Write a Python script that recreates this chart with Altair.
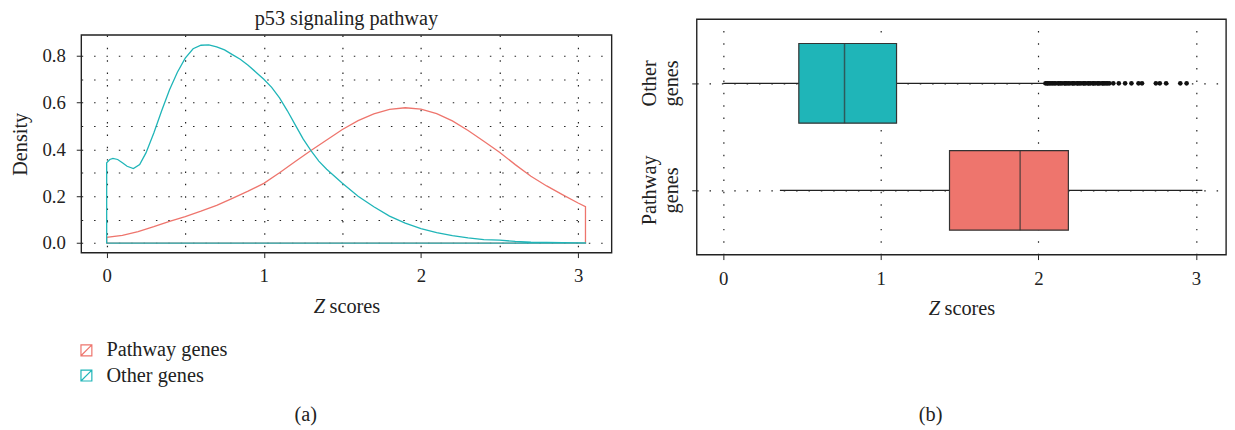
import altair as alt
import pandas as pd

FONT = "Liberation Serif"
INK = "#222222"
RED = "#EE756D"
TEAL = "#1FB5B8"

# ---------------- data ----------------
groups = ["Pathway genes", "Other genes"]
colors = [RED, TEAL]
title_text = ["p53 signaling pathway"]
xlab_italic = ["Z"]
xlab_rest = ["scores"]
panel_a = ["(a)"]
panel_b = ["(b)"]

# density of Z scores, pathway genes
path_x = [0.0, 0.1, 0.2, 0.3, 0.4, 0.5, 0.6, 0.7, 0.8, 0.9, 1.0, 1.1, 1.2, 1.3, 1.4,
          1.5, 1.6, 1.7, 1.8, 1.9, 2.0, 2.1, 2.2, 2.3, 2.4, 2.5, 2.6, 2.7, 2.8, 2.9,
          3.0, 3.047]
path_y = [0.024, 0.033, 0.049, 0.070, 0.093, 0.113, 0.136, 0.161, 0.191, 0.222, 0.255,
          0.300, 0.348, 0.395, 0.440, 0.485, 0.523, 0.552, 0.571, 0.578, 0.572, 0.553,
          0.522, 0.481, 0.435, 0.388, 0.335, 0.285, 0.244, 0.207, 0.171, 0.155]

# density of Z scores, other genes
other_x = [0.0, 0.02, 0.04, 0.07, 0.10, 0.13, 0.17, 0.21, 0.25, 0.30, 0.35, 0.40, 0.45,
           0.50, 0.55, 0.60, 0.65, 0.70, 0.75, 0.80, 0.85, 0.90, 0.95, 1.00, 1.05, 1.10,
           1.15, 1.20, 1.25, 1.30, 1.35, 1.40, 1.50, 1.60, 1.70, 1.80, 1.90, 2.00, 2.10,
           2.20, 2.30, 2.40, 2.50, 2.60, 2.70, 2.80, 2.90, 3.047]
other_y = [0.343, 0.357, 0.362, 0.357, 0.343, 0.328, 0.318, 0.335, 0.385, 0.470, 0.565,
           0.655, 0.730, 0.790, 0.830, 0.845, 0.847, 0.838, 0.825, 0.805, 0.785, 0.760,
           0.730, 0.700, 0.665, 0.620, 0.565, 0.505, 0.445, 0.395, 0.350, 0.315, 0.255,
           0.200, 0.155, 0.115, 0.085, 0.062, 0.045, 0.032, 0.022, 0.015, 0.012, 0.007,
           0.004, 0.003, 0.002, 0.001]

# boxplot summaries
box_groups = ["Other genes", "Pathway genes"]
box_lo = [0.0, 0.36]
box_q1 = [0.48, 1.436]
box_med = [0.77, 1.884]
box_q3 = [1.10, 2.19]
box_hi = [2.04, 3.04]
box_fill_groups = ["Pathway genes", "Other genes"]

outlier_group = "Other genes"
outliers = [2.045, 2.055, 2.06, 2.07, 2.08, 2.09, 2.10, 2.11, 2.125, 2.13, 2.14, 2.15,
            2.165, 2.17, 2.18, 2.19, 2.20, 2.215, 2.22, 2.23, 2.245, 2.25, 2.26, 2.27,
            2.285, 2.29, 2.30, 2.315, 2.32, 2.33, 2.345, 2.35, 2.36, 2.375, 2.38, 2.39,
            2.405, 2.41, 2.42, 2.43, 2.44, 2.45, 2.475, 2.51, 2.55, 2.59, 2.635, 2.657,
            2.745, 2.77, 2.81, 2.90, 2.94]


def dens_df(name, xs, ys):
    px = [xs[0]] + list(xs) + [xs[-1], xs[0]]
    py = [0.0] + list(ys) + [0.0, 0.0]
    return pd.DataFrame({"x": px, "y": py, "o": list(range(len(px))), "g": name})


dotted = dict(grid=True, gridDash=[1.5, 11], gridColor=INK, gridWidth=1.2, gridOpacity=1)
lab = dict(labelFont=FONT, labelFontSize=19, labelColor=INK, tickColor=INK, tickSize=5,
           tickWidth=1, domain=False)

# ---------------- panel (a) ----------------
WA, HA = 536, 220

axA_x = alt.Axis(values=[0, 0.5, 1, 1.5, 2, 2.5, 3], title=None,
                 labelExpr="datum.value % 1 == 0 ? format(datum.value, 'd') : ''",
                 tickOpacity={"condition": {"test": "datum.value % 1 != 0", "value": 0}, "value": 1},
                 labelPadding=9, **dotted, **lab)
axA_y = alt.Axis(values=[0, 0.1, 0.2, 0.3, 0.4, 0.5, 0.6, 0.7, 0.8],
                 labelExpr="round(datum.value*10) % 2 == 0 ? format(datum.value, '.1f') : ''",
                 tickOpacity={"condition": {"test": "round(datum.value*10) % 2 != 0", "value": 0}, "value": 1},
                 labelPadding=11, title="Density", titleFont=FONT, titleFontSize=20.5,
                 titleFontWeight="normal", titleColor=INK, titleAngle=270, titleX=-55.5,
                 titleY=HA / 2, titleAlign="center", titleBaseline="alphabetic",
                 **dotted, **lab)

xA = alt.X("x:Q", scale=alt.Scale(domain=[-0.162, 3.213], nice=False, zero=False), axis=axA_x)
yA = alt.Y("y:Q", scale=alt.Scale(domain=[-0.041, 0.889], nice=False, zero=False), axis=axA_y)

legA = alt.Legend(title=None, orient="none", legendX=-5, legendY=324.5, direction="vertical",
                  symbolType="M-1,-1H1V1H-1Z M-1,1L1,-1", symbolSize=121,
                  symbolStrokeWidth=1.2, symbolFillColor="transparent",
                  labelFont=FONT, labelFontSize=20.5, labelColor=INK, labelOffset=10,
                  rowPadding=4.5, padding=0)
colA = alt.Color("g:N", scale=alt.Scale(domain=groups, range=colors), legend=legA)

red_line = alt.Chart(dens_df(groups[0], path_x, path_y)).mark_line(strokeWidth=1.3).encode(
    x=xA, y=yA, order="o:Q", color=colA)
teal_line = alt.Chart(dens_df(groups[1], other_x, other_y)).mark_line(strokeWidth=1.3).encode(
    x=xA, y=yA, order="o:Q", color=colA)


def text_layer(values, x, y, italic=False, align="left", size=20.5):
    kw = dict(font=FONT, fontSize=size, color=INK, align=align, baseline="alphabetic")
    if italic:
        kw["fontStyle"] = "italic"
    return alt.Chart(pd.DataFrame({"t": values})).mark_text(**kw).encode(
        text="t:N", x=alt.value(x), y=alt.value(y))


A = alt.layer(
    red_line, teal_line,
    text_layer(xlab_italic, WA / 2 - 33, HA + 61, italic=True),
    text_layer(xlab_rest, WA / 2 - 17, HA + 61),
    text_layer(panel_a, 227, 390, align="center"),
).properties(width=WA, height=HA)

spacer = alt.Chart(pd.DataFrame({"t": title_text})).mark_text(
    font=FONT, fontSize=20.5, color=INK, align="center", baseline="alphabetic"
).encode(text="t:N", x=alt.value(WA / 2), y=alt.value(5.7)).properties(
    width=WA, height=16, view=alt.ViewBackground(stroke="transparent"))

left = alt.vconcat(spacer, A, spacing=0, bounds="flush")

# ---------------- panel (b) ----------------
WB, HB = 535, 238

box_df = pd.DataFrame({"grp": box_groups, "lo": box_lo, "q1": box_q1, "med": box_med,
                       "q3": box_q3, "hi": box_hi})
out_df = pd.DataFrame({"v": outliers, "grp": outlier_group})

axB_x = alt.Axis(values=[0, 1, 2, 3], title=None, format="d", labelPadding=10, **dotted, **lab)
axB_y = alt.Axis(labels=False, title=None, **dotted, **lab)
scB_x = alt.Scale(domain=[-0.168, 3.19], nice=False, zero=False)
scB_y = alt.Scale(type="point", domain=box_groups, padding=0.6)
yB = alt.Y("grp:N", scale=scB_y, axis=axB_y)

whisk = alt.Chart(box_df).mark_rule(color=INK, strokeWidth=1.1).encode(
    x=alt.X("lo:Q", scale=scB_x, axis=axB_x), x2="hi:Q", y=yB)
boxes = alt.Chart(box_df).mark_bar(size=80.5, stroke="#333333", strokeWidth=1.2).encode(
    x="q1:Q", x2="q3:Q", y=yB,
    color=alt.Color("grp:N", scale=alt.Scale(domain=box_fill_groups, range=colors), legend=None))
med = alt.Chart(box_df).mark_tick(size=80.5, thickness=1.5, color="#333333").encode(
    x="med:Q", y=yB)
outs = alt.Chart(out_df).mark_circle(size=22, color="#111111", opacity=1).encode(
    x="v:Q", y=yB)
ylabs = alt.Chart(box_df).mark_text(font=FONT, fontSize=20.5, color=INK, angle=270,
                                    lineBreak=" ", lineHeight=21.5, align="center",
                                    baseline="alphabetic").encode(
    text="grp:N", y=yB, x=alt.value(-40.7))

B = alt.layer(
    whisk, boxes, med, outs, ylabs,
    text_layer(xlab_italic, WB / 2 - 33, HB + 61, italic=True),
    text_layer(xlab_rest, WB / 2 - 17, HB + 61),
    text_layer(panel_b, 236.5, 406, align="center"),
).properties(width=WB, height=HB)

# the nested column has no flush width of its own, so the gap carries panel (a)'s width
chart = alt.hconcat(left, B, spacing=WA + 86, bounds="flush").resolve_scale(
    color="independent", x="independent", y="independent").resolve_legend(
    color="independent").properties(
    padding={"left": 1, "top": -2, "right": 0, "bottom": 0}, background="white"
).configure(font=FONT).configure_view(stroke=INK, strokeWidth=1.4)

chart.save("out.html", embed_options={"renderer": "svg", "actions": False})
